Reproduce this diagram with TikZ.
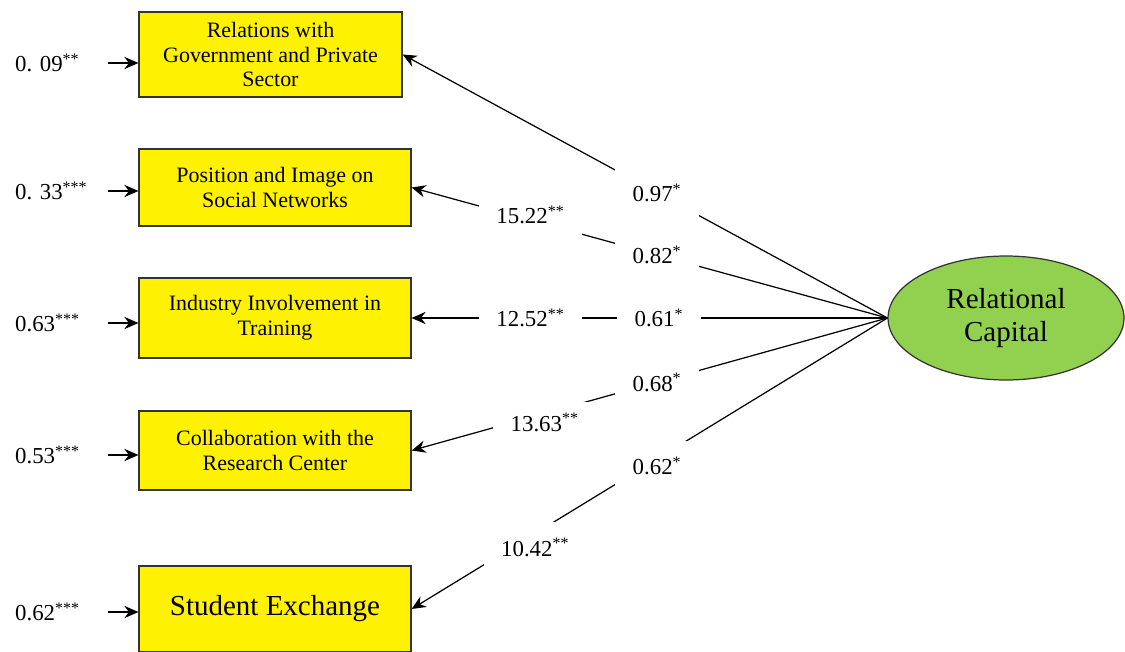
\documentclass[tikz,border=0pt]{standalone}
\usepackage{fontspec}
\setmainfont{Liberation Serif}
\usetikzlibrary{positioning, arrows.meta, shapes.geometric}
\definecolor{lvgreen}{RGB}{146,208,80}
\tikzset{->,>={Stealth[length=8pt,width=7pt]},
box/.style={draw=black!80, line width=0.7pt, fill=yellow, minimum width=5.44cm, minimum height=1.6cm, align=center, font=\fontsize{12.5}{14}\selectfont},
latent/.style={ellipse, draw=black!80, line width=0.7pt, fill=lvgreen, minimum width=4.72cm, minimum height=2.48cm, inner sep=0pt, align=center, font=\fontsize{16.5}{19}\selectfont},
err/.style={anchor=west, text width=1.5cm, align=left, inner sep=2pt, font=\fontsize{13}{15}\selectfont},
coef/.style={fill=white, inner xsep=10pt, inner ysep=6pt, font=\fontsize{13}{15}\selectfont},
}
\newcommand{\sig}{\textsuperscript}

\begin{document}
\begin{tikzpicture}[x=0.02cm, y=-0.02cm, line width=0.7pt]
    \useasboundingbox (0,0) rectangle (1125,652);

    \node[box, minimum width=5.26cm, minimum height=1.7cm] (b1) at (270.5,54.5) {Relations with\\Government and Private\\Sector};
    \node[box, minimum height=1.54cm] (b2) at (275,187.5) {Position and Image on\\Social Networks};
    \node[box] (b3) at (275,318) {Industry Involvement in\\Training};
    \node[box, minimum height=1.58cm] (b4) at (275,450.5) {Collaboration with the\\Research Center};
    \node[box, minimum height=1.72cm, font=\fontsize{16.5}{19}\selectfont] (b5) at (275,609) {Student Exchange};

    \node[latent] (rc) at (1006,318) {Relational\\Capital};

    \node[err] (e1) at (11,63) {0.~09\sig{**}};
    \node[err] (e2) at (11,191) {0.~33\sig{***}};
    \node[err] (e3) at (11,323) {0.63\sig{***}};
    \node[err] (e4) at (11,455) {0.53\sig{***}};
    \node[err] (e5) at (11,612) {0.62\sig{***}};

    \draw[shorten <=0.28cm] (e1.east) -- (e1.east -| b1.west);
    \draw[shorten <=0.28cm] (e2.east) -- (e2.east -| b2.west);
    \draw[shorten <=0.28cm] (e3.east) -- (e3.east -| b3.west);
    \draw[shorten <=0.28cm] (e4.east) -- (e4.east -| b4.west);
    \draw[shorten <=0.28cm] (e5.east) -- (e5.east -| b5.west);

    \draw (rc.west) -- node[coef, pos=0.475, inner ysep=9pt] {0.97\sig{*}} (b1.east);
    \draw (rc.west) -- node[coef, pos=0.484] {0.82\sig{*}}
        node[coef, pos=0.75, yshift=3pt] {15.22\sig{**}} (b2.east);
    \draw (rc.west) -- node[coef, pos=0.48] {0.61\sig{*}}
        node[coef, pos=0.75] {12.52\sig{**}} (b3.east);
    \draw (rc.west) -- node[coef, pos=0.484] {0.68\sig{*}}
        node[coef, pos=0.72, yshift=-5pt] {13.63\sig{**}} (b4.east);
    \draw (rc.west) -- node[coef, pos=0.484, inner ysep=9pt, yshift=-4pt] {0.62\sig{*}}
        node[coef, pos=0.74, inner ysep=9pt, yshift=-8pt] {10.42\sig{**}} (b5.east);
\end{tikzpicture}
\end{document}
